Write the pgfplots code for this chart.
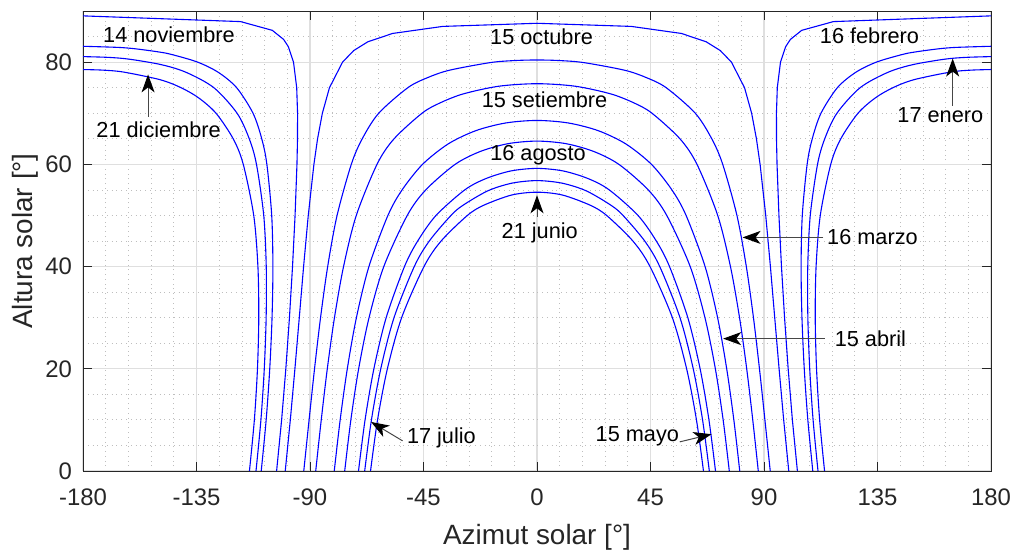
\documentclass[border=0pt]{standalone}
\usepackage{pgfplots}
\pgfplotsset{compat=1.18}
\usepackage{fontspec}
\setmainfont{Liberation Sans}
\usetikzlibrary{arrows.meta}

\definecolor{axgray}{RGB}{38,38,38}
\definecolor{gridmajor}{RGB}{223,223,223}
\definecolor{gridminor}{RGB}{190,190,190}
\definecolor{leader}{RGB}{70,70,70}

\begin{document}
\begin{tikzpicture}[
  sunpath/.style={blue, line width=0.55bp},
  sunpathsmooth/.style={blue, line width=0.55bp, smooth, tension=0.5},
  note/.style={font=\fontsize{10.9}{12}\selectfont, text=black, inner sep=0pt, anchor=center},
  callout/.style={draw=leader, line width=0.5bp,
    -{Stealth[length=9bp, width=6.5bp, inset=2.5bp, color=black]}}
]
\path[use as bounding box] (-41.5bp,-40bp) rectangle (467bp,235.5bp);
\begin{axis}[
  scale only axis,
  width=454bp, height=230bp,
  xmin=-180, xmax=180, ymin=0, ymax=90,
  xtick={-180,-135,-90,-45,0,45,90,135,180},
  xticklabels={-180,-135,-90,-45,0,45,90,135,180},
  ytick={0,20,40,60,80},
  yticklabels={0,20,40,60,80},
  minor xtick={-171,-162,-153,-144,-126,-117,-108,-99,-81,-72,-63,-54,-36,-27,-18,-9,9,18,27,36,54,63,72,81,99,108,117,126,144,153,162,171},
  minor ytick={5,10,15,25,30,35,45,50,55,65,70,75,85},
  grid=both,
  major grid style={draw=gridmajor, line width=0.55bp},
  minor grid style={draw=gridminor, dotted, line width=0.4bp},
  tick align=inside, tick pos=both,
  major tick length=4.5bp, minor tick length=0pt,
  axis line style={draw=axgray, line width=0.5bp},
  tick style={draw=axgray, line width=0.5bp},
  ticklabel style={font=\fontsize{12}{14}\selectfont, text=axgray},
  xticklabel style={yshift=-5.5bp},
  yticklabel style={xshift=-2bp},
  xlabel={Azimut solar [°]},
  ylabel={Altura solar [°]},
  label style={font=\fontsize{14}{16}\selectfont, text=axgray},
  xlabel style={at={(axis description cs:0.5,-0.1435)}, anchor=center},
  ylabel style={at={(axis description cs:-0.064,0.5)}, anchor=center},
  clip=true,
]
% 21 junio
\addplot[sunpathsmooth] coordinates {(-66.00,0) (-63.22,10) (-59.32,20) (-53.67,30) (-44.81,40) (-38.01,45) (-27.60,50) (-21.11,52) (-10.04,54) (0,54.55) (10.04,54) (21.11,52) (27.60,50) (38.01,45) (44.81,40) (53.67,30) (59.32,20) (63.22,10) (66.00,0)};
% 17 julio
\addplot[sunpathsmooth] coordinates {(-68.32,0) (-65.64,10) (-61.94,20) (-56.69,30) (-48.66,40) (-42.70,45) (-34.11,50) (-29.31,52) (-19.50,54.82) (-9.93,56.32) (0,56.82) (9.93,56.32) (19.50,54.82) (29.31,52) (34.11,50) (42.70,45) (48.66,40) (56.69,30) (61.94,20) (65.64,10) (68.32,0)};
% 15 mayo
\addplot[sunpathsmooth] coordinates {(-70.77,0) (-68.17,10) (-64.67,20) (-59.80,30) (-52.54,40) (-47.30,45) (-40.04,50) (-28.65,55) (-20.28,57.21) (-10.35,58.71) (0,59.21) (10.35,58.71) (20.28,57.21) (28.65,55) (40.04,50) (47.30,45) (52.54,40) (59.80,30) (64.67,20) (68.17,10) (70.77,0)};
% 16 agosto
\addplot[sunpathsmooth] coordinates {(-76.24,0) (-73.80,10) (-70.71,20) (-66.59,30) (-60.74,40) (-51.45,50) (-44.10,55) (-32.46,60) (-22.33,62.55) (-11.43,64.05) (0,64.55) (11.43,64.05) (22.33,62.55) (32.46,60) (44.10,55) (51.45,50) (60.74,40) (66.59,30) (70.71,20) (73.80,10) (76.24,0)};
% 15 abril
\addplot[sunpathsmooth] coordinates {(-80.38,0) (-78.04,10) (-75.21,20) (-71.60,30) (-66.64,40) (-59.11,50) (-53.49,55) (-45.38,60) (-35.20,64) (-24.26,66.59) (-12.46,68.09) (0,68.59) (12.46,68.09) (24.26,66.59) (35.20,64) (45.38,60) (53.49,55) (59.11,50) (66.64,40) (71.60,30) (75.21,20) (78.04,10) (80.38,0)};
% 15 setiembre
\addplot[sunpathsmooth] coordinates {(-87.73,0) (-85.54,10) (-83.14,20) (-80.30,30) (-76.70,40) (-71.65,50) (-63.43,60) (-56.67,65) (-45.59,70) (-38.53,72) (-29.26,73.78) (-15.23,75.28) (0,75.78) (15.23,75.28) (29.26,73.78) (38.53,72) (45.59,70) (56.67,65) (63.43,60) (71.65,50) (76.70,40) (80.30,30) (83.14,20) (85.54,10) (87.73,0)};
% 16 marzo
\addplot[sunpathsmooth] coordinates {(-92.47,0) (-90.36,10) (-88.20,20) (-85.82,30) (-82.99,40) (-79.27,50) (-73.63,60) (-69.29,65) (-62.76,70) (-51.21,75) (-43.21,77) (-34.68,78.42) (-18.37,79.92) (-8.35,80.32) (0,80.42) (8.35,80.32) (18.37,79.92) (34.68,78.42) (43.21,77) (51.21,75) (62.76,70) (69.29,65) (73.63,60) (79.27,50) (82.99,40) (85.82,30) (88.20,20) (90.36,10) (92.47,0)};
% 15 octubre
\addplot[sunpath] coordinates {(-99.82,0) (-97.80,10) (-95.98,20) (-94.25,30) (-92.54,40) (-90.69,50) (-88.45,60) (-87.00,65) (-85.10,70) (-82.28,75) (-77.09,80) (-72.68,82.26) (-67.07,83.98) (-57.26,85.61) (-37.37,86.99) (0,87.60) (37.37,86.99) (57.26,85.61) (67.07,83.98) (72.68,82.26) (77.09,80) (82.28,75) (85.10,70) (87.00,65) (88.45,60) (90.69,50) (92.54,40) (94.25,30) (95.98,20) (97.80,10) (99.82,0)};
% 16 febrero
\addplot[sunpath] coordinates {(-103.24,0) (-101.25,10) (-99.58,20) (-98.15,30) (-96.93,40) (-95.92,50) (-95.17,60) (-94.95,65) (-94.93,70) (-95.27,75) (-96.54,80) (-98.56,83) (-100.44,84.43) (-104.94,86.22) (-117.52,87.93) (-180,89.05)};
\addplot[sunpath] coordinates {(103.24,0) (101.25,10) (99.58,20) (98.15,30) (96.93,40) (95.92,50) (95.17,60) (94.95,65) (94.93,70) (95.27,75) (96.54,80) (98.56,83) (100.44,84.43) (104.94,86.22) (117.52,87.93) (180,89.05)};
% 14 noviembre
\addplot[sunpathsmooth] coordinates {(-109.34,0) (-107.38,10) (-105.96,20) (-105.05,30) (-104.71,40) (-105.18,50) (-107.10,60) (-109.13,65) (-112.59,70) (-119.09,75) (-126.35,78) (-134.54,80) (-144.89,81.5) (-150.10,82.0) (-159.13,82.6) (-166.00,82.88) (-180,83.10)};
\addplot[sunpathsmooth] coordinates {(109.34,0) (107.38,10) (105.96,20) (105.05,30) (104.71,40) (105.18,50) (107.10,60) (109.13,65) (112.59,70) (119.09,75) (126.35,78) (134.54,80) (144.89,81.5) (150.10,82.0) (159.13,82.6) (166.00,82.88) (180,83.10)};
% 17 enero
\addplot[sunpathsmooth] coordinates {(-111.41,0) (-109.46,10) (-108.13,20) (-107.39,30) (-107.35,40) (-108.34,50) (-111.22,60) (-114.08,65) (-118.91,70) (-128.12,75) (-139.11,78) (-148.92,79.5) (-161.69,80.58) (-170.00,80.93) (-180,81.08)};
\addplot[sunpathsmooth] coordinates {(111.41,0) (109.46,10) (108.13,20) (107.39,30) (107.35,40) (108.34,50) (111.22,60) (114.08,65) (118.91,70) (128.12,75) (139.11,78) (148.92,79.5) (161.69,80.58) (170.00,80.93) (180,81.08)};
% 21 diciembre
\addplot[sunpathsmooth] coordinates {(-114.01,0) (-112.06,10) (-110.83,20) (-110.31,30) (-110.65,40) (-112.31,50) (-116.46,60) (-120.45,65) (-127.27,70) (-134.13,73) (-141.13,75) (-149.35,76.55) (-163.85,78.05) (-172.00,78.43) (-180,78.55)};
\addplot[sunpathsmooth] coordinates {(114.01,0) (112.06,10) (110.83,20) (110.31,30) (110.65,40) (112.31,50) (116.46,60) (120.45,65) (127.27,70) (134.13,73) (141.13,75) (149.35,76.55) (163.85,78.05) (172.00,78.43) (180,78.55)};

% date labels
\node[note] at (axis cs:-145.9,85.35) {14 noviembre};
\node[note] at (axis cs:-150.0,66.75) {21 diciembre};
\draw[callout] (axis cs:-154.2,69.3) -- (axis cs:-154.2,77.6);
\node[note] at (axis cs:131.8,85.2) {16 febrero};
\node[note] at (axis cs:159.9,69.6) {17 enero};
\draw[callout] (axis cs:164.8,71.5) -- (axis cs:164.8,80.7);
\node[note] at (axis cs:1.8,85.0) {15 octubre};
\node[note] at (axis cs:3.0,72.7) {15 setiembre};
\node[note] at (axis cs:0.4,61.8) {16 agosto};
\node[note] at (axis cs:1.1,46.5) {21 junio};
\draw[callout] (axis cs:0,49.7) -- (axis cs:0,53.95);
\node[note] at (axis cs:133.0,45.7) {16 marzo};
\draw[callout] (axis cs:113.5,45.7) -- (axis cs:81.5,45.7);
\node[note] at (axis cs:132.2,25.9) {15 abril};
\draw[callout] (axis cs:114.1,25.9) -- (axis cs:73.8,25.9);
\node[note] at (axis cs:-37.9,6.4) {17 julio};
\draw[callout] (axis cs:-53.3,5.9) -- (axis cs:-65.8,9.6);
\node[note] at (axis cs:39.8,6.7) {15 mayo};
\draw[callout] (axis cs:56.6,5.7) -- (axis cs:69.2,7.2);
\end{axis}
\end{tikzpicture}
\end{document}
